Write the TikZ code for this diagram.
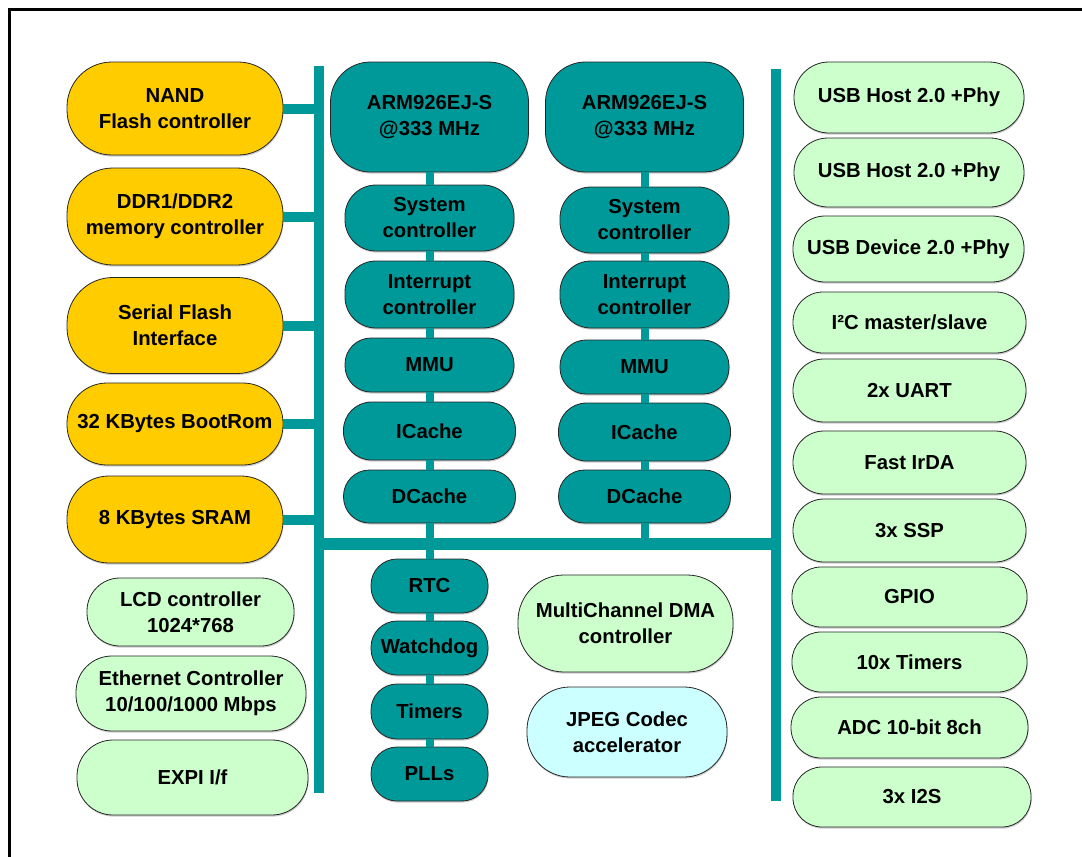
\documentclass[tikz,border=0pt]{standalone}
\usepackage{fontspec}
\setmainfont{Liberation Sans}
\usetikzlibrary{shadows}
\definecolor{busteal}{RGB}{0,153,153}
\definecolor{yel}{RGB}{255,204,0}
\definecolor{lgreen}{RGB}{204,255,204}
\definecolor{lcyan}{RGB}{204,255,255}
\tikzset{
  blk/.style={draw=black!85, line width=0.8pt, align=center, inner sep=0pt,
    font=\fontsize{20.3pt}{26pt}\selectfont\bfseries,
    drop shadow={shadow xshift=0.6pt, shadow yshift=-1.6pt, fill=black!40}},
  ybox/.style={blk, fill=yel},
  gbox/.style={blk, fill=lgreen},
  tbox/.style={blk, fill=busteal},
  cbox/.style={blk, fill=lcyan},
  sz/.style n args={3}{minimum width=#1pt, minimum height=#2pt, rounded corners=#3pt},
  bus/.style={draw=busteal, line width=#1, line cap=butt},
  bus/.default=10pt,
  frame/.style={draw=black, line width=2.4pt}
}
\begin{document}
\begin{tikzpicture}[x=1pt,y=-1pt]
\useasboundingbox (0,0) rectangle (1082,857);
\coordinate (F0) at (9.3,857); \coordinate (F1) at (9.3,9.3); \coordinate (F2) at (1082,9.3);
\draw[frame] (F0) -- (F1) -- (F2);

% left column (memory)
\node[ybox, sz={216}{93}{45}] (nand) at (175,108.5) {NAND\\Flash controller};
\node[ybox, sz={216}{97}{46}] (ddr) at (175,216.5) {DDR1/DDR2\\memory controller};
\node[ybox, sz={216}{96}{46}] (sfi) at (175,325.5) {Serial Flash\\Interface};
\node[ybox, sz={216}{82}{40}] (boot) at (175,424) {32 KBytes BootRom};
\node[ybox, sz={216}{87}{42}] (sram) at (175,519.5) {8 KBytes SRAM};

\node[gbox, sz={207}{68}{33}] (lcd) at (190.5,612) {LCD controller\\1024*768};
\node[gbox, sz={230}{75}{36}] (eth) at (191,693.5) {Ethernet Controller\\10/100/1000 Mbps};
\node[gbox, sz={231}{75}{36}] (expi) at (192.5,777.5) {EXPI I/f};

% CPU 1
\node[tbox, sz={198}{110}{40}] (arma) at (429.5,117) {ARM926EJ-S\\@333 MHz};
\node[tbox, sz={169}{66}{31}] (sysa) at (429.5,218) {System\\controller};
\node[tbox, sz={169}{67}{31}] (inta) at (429.5,294.5) {Interrupt\\controller};
\node[tbox, sz={169}{54}{26}] (mmua) at (429.5,365) {MMU};
\node[tbox, sz={172}{58}{28}] (ica) at (429.5,431) {ICache};
\node[tbox, sz={172}{53}{26}] (dca) at (429.5,496.5) {DCache};

% CPU 2
\node[tbox, sz={198}{110}{40}] (armb) at (644.5,117) {ARM926EJ-S\\@333 MHz};
\node[tbox, sz={169}{66}{31}] (sysb) at (644.5,220) {System\\controller};
\node[tbox, sz={169}{67}{31}] (intb) at (644.5,294.5) {Interrupt\\controller};
\node[tbox, sz={169}{54}{26}] (mmub) at (644.5,367) {MMU};
\node[tbox, sz={172}{58}{28}] (icb) at (644.5,432) {ICache};
\node[tbox, sz={172}{53}{26}] (dcb) at (644.5,496.5) {DCache};

% lower centre
\node[tbox, sz={117}{54}{26}] (rtc) at (429.5,586) {RTC};
\node[tbox, sz={117}{54}{26}] (wdg) at (429.5,648) {Watchdog};
\node[tbox, sz={117}{55}{26}] (tmr) at (429.5,711.5) {Timers};
\node[tbox, sz={117}{54}{26}] (pll) at (429.5,774) {PLLs};

\node[gbox, sz={215}{97}{46}] (dma) at (625.5,623.5) {MultiChannel DMA\\controller};
\node[cbox, sz={200}{90}{43}] (jpeg) at (627,732) {JPEG Codec\\accelerator};

% right column
\node[gbox, sz={230}{71}{35}] (usba) at (909,97.5) {USB Host 2.0 +Phy};
\node[gbox, sz={230}{69}{34}] (usbb) at (909,172.5) {USB Host 2.0 +Phy};
\node[gbox, sz={231}{66}{32}] (usbd) at (908.5,249) {USB Device 2.0 +Phy};
\node[gbox, sz={233}{61}{30}] (i2c) at (909.5,322.5) {I²C master/slave};
\node[gbox, sz={233}{63}{31}] (uart) at (909.5,390.5) {2x UART};
\node[gbox, sz={233}{63}{31}] (irda) at (909.5,462.5) {Fast IrDA};
\node[gbox, sz={233}{63}{31}] (ssp) at (909.5,530.5) {3x SSP};
\node[gbox, sz={235}{60}{29}] (gpio) at (909.5,597) {GPIO};
\node[gbox, sz={235}{60}{29}] (tim10) at (909.5,662) {10x Timers};
\node[gbox, sz={237}{61}{30}] (adc) at (909.5,727.5) {ADC 10-bit 8ch};
\node[gbox, sz={238}{60}{29}] (i2s) at (912,797) {3x I2S};

% buses
\coordinate (LT) at (319,66);  \coordinate (LB) at (319,793);
\coordinate (RT) at (776,69);  \coordinate (RB) at (776,801);
\coordinate (HL) at (319,543.5); \coordinate (HR) at (776,543.5);
\draw[bus=9.5pt] (LT) -- (LB);
\draw[bus=10pt] (RT) -- (RB);
\draw[bus=12pt] (HL) -- (HR);

\foreach \n in {nand,ddr,sfi,boot,sram}
  \draw[bus=10pt] (\n.east) -- (\n.east -| LT);

\foreach \a/\b in {arma/sysa,sysa/inta,inta/mmua,mmua/ica,ica/dca,
                   armb/sysb,sysb/intb,intb/mmub,mmub/icb,icb/dcb,
                   rtc/wdg,wdg/tmr,tmr/pll}
  \draw[bus=8pt] (\a.south) -- (\b.north);
\draw[bus=8pt] (dca.south) -- (dca.south |- HL);
\draw[bus=8pt] (dcb.south) -- (dcb.south |- HL);
\draw[bus=8pt] (rtc.north |- HL) -- (rtc.north);
\end{tikzpicture}
\end{document}
